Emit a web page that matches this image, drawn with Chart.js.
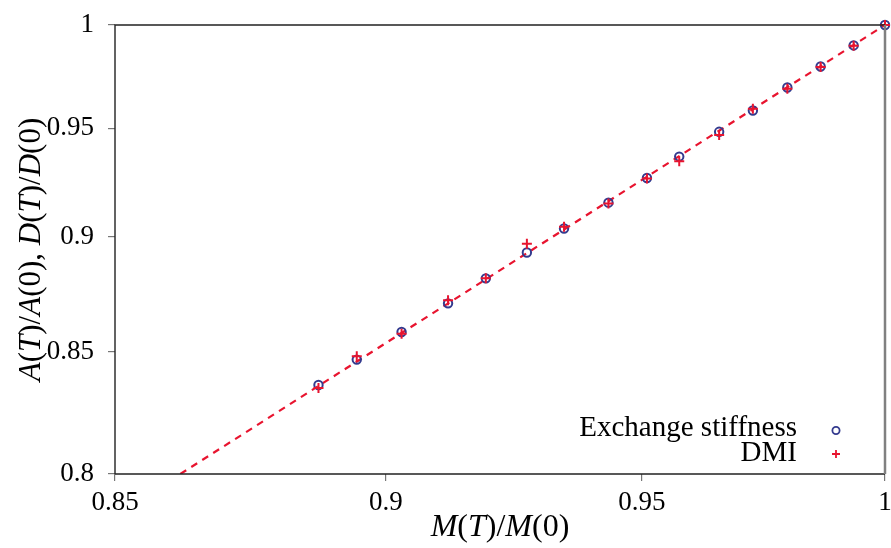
<!DOCTYPE html>
<html>
<head>
<meta charset="utf-8">
<title>Exchange stiffness and DMI scaling</title>
<script src="https://cdn.jsdelivr.net/npm/chart.js@4.4.1/dist/chart.umd.min.js"></script>
<style>
  html, body { margin: 0; padding: 0; background: #fff; }
  #wrap { width: 891px; height: 548px; }
</style>
</head>
<body>
<div id="wrap"><canvas id="myChart" width="891" height="548"></canvas></div>
<script>
// Reduced magnetisation M(T)/M(0)
const magnetisation = [0.8873, 0.8945, 0.9030, 0.9119, 0.9192, 0.9272, 0.9345, 0.9433,
                       0.9510, 0.9575, 0.9656, 0.9725, 0.9796, 0.9865, 0.9934, 1.0];
// A(T)/A(0)
const exchangeStiffness = [0.8362, 0.8468, 0.8585, 0.8708, 0.8817, 0.8931, 0.9038, 0.9155,
                           0.9268, 0.9367, 0.9483, 0.9584, 0.9694, 0.9796, 0.9899, 1.0];
// D(T)/D(0)
const dmi = [0.8349, 0.8482, 0.8578, 0.8722, 0.8817, 0.8970, 0.9046, 0.9151,
             0.9265, 0.9345, 0.9468, 0.9592, 0.9688, 0.9793, 0.9897, 1.0];
// power law fit, straight on log-log axes (end points)
const fitX = [0.8618, 1.0];
const fitY = [0.8, 1.0];

const xTicks = [0.85, 0.9, 0.95, 1];
const yTicks = [0.8, 0.85, 0.9, 0.95, 1];

const SERIF = "'Liberation Serif', 'DejaVu Serif', serif";
const BLUE = '#333a8e';
const RED = '#e8142f';

// plot box edges on the canvas
const W = 891, H = 548;
const BOX = { left: 115, top: 25, right: 885, bottom: 474 };

const toPoints = (xs, ys) => xs.map((x, i) => ({ x: x, y: ys[i] }));

// Axis titles mix italic symbols with upright parentheses and digits
function drawRichText(ctx, parts, size) {
    const fontFor = it => (it ? 'italic ' : '') + size + 'px ' + SERIF;
    let total = 0;
    parts.forEach(p => { ctx.font = fontFor(p[1]); total += ctx.measureText(p[0]).width; });
    let x = -total / 2;
    ctx.textBaseline = 'middle';
    ctx.textAlign = 'left';
    ctx.fillStyle = '#000';
    parts.forEach(p => {
        ctx.font = fontFor(p[1]);
        ctx.fillText(p[0], x, 0);
        x += ctx.measureText(p[0]).width;
    });
}

const titlesPlugin = {
    id: 'axisTitles',
    afterDraw(chart) {
        const ctx = chart.ctx;
        const area = chart.chartArea;
        ctx.save();
        ctx.translate((area.left + area.right) / 2, 528);
        drawRichText(ctx, [['M', true], ['(', false], ['T', true], [')/', false], ['M', true], ['(0)', false]], 32);
        ctx.restore();

        ctx.save();
        ctx.translate(32, (area.top + area.bottom) / 2);
        ctx.rotate(-Math.PI / 2);
        drawRichText(ctx, [['A', true], ['(', false], ['T', true], [')/', false], ['A', true], ['(0), ', false],
                           ['D', true], ['(', false], ['T', true], [')/', false], ['D', true], ['(0)', false]], 31);
        ctx.restore();
    }
};

// Box round the plot area
const framePlugin = {
    id: 'frame',
    afterDatasetsDraw(chart) {
        const ctx = chart.ctx;
        const a = chart.chartArea;
        ctx.save();
        ctx.strokeStyle = '#222';
        ctx.lineWidth = 1.4;
        ctx.beginPath();
        ctx.moveTo(a.left, a.bottom);
        ctx.lineTo(a.left, a.top);
        ctx.lineTo(a.right, a.top);
        ctx.moveTo(a.left, a.bottom);
        ctx.lineTo(a.right, a.bottom);
        ctx.stroke();
        ctx.strokeStyle = '#808080';
        ctx.lineWidth = 2.5;
        ctx.beginPath();
        ctx.moveTo(a.right, a.top);
        ctx.lineTo(a.right, a.bottom);
        ctx.stroke();
        ctx.restore();
    }
};

// Key in the lower right corner: label first, marker after it
const keyPlugin = {
    id: 'key',
    afterDraw(chart) {
        const ctx = chart.ctx;
        const textRight = 797, markX = 836;
        ctx.save();
        ctx.font = '29px ' + SERIF;
        ctx.fillStyle = '#000';
        ctx.textAlign = 'right';
        ctx.textBaseline = 'alphabetic';
        ctx.fillText('Exchange stiffness', textRight, 436);
        ctx.fillText('DMI', textRight, 461);

        ctx.strokeStyle = BLUE;
        ctx.lineWidth = 1.8;
        ctx.beginPath();
        ctx.arc(markX, 430.5, 3.6, 0, Math.PI * 2);
        ctx.stroke();

        ctx.strokeStyle = RED;
        ctx.lineWidth = 1.8;
        ctx.beginPath();
        ctx.moveTo(markX - 4, 454); ctx.lineTo(markX + 4, 454);
        ctx.moveTo(markX, 450); ctx.lineTo(markX, 458);
        ctx.stroke();
        ctx.restore();
    }
};

// clip:false datasets make the layout reserve room for markers; pin the box back
const pinBoxPlugin = {
    id: 'pinBox',
    afterLayout(chart) {
        const a = chart.chartArea;
        if (a.top === BOX.top && a.right === BOX.right) return;
        Object.assign(a, BOX, { width: BOX.right - BOX.left, height: BOX.bottom - BOX.top });
        const xs = chart.scales.x, ys = chart.scales.y;
        xs.left = BOX.left; xs.right = BOX.right; xs.width = BOX.right - BOX.left;
        xs.top = BOX.bottom; xs.bottom = H;
        ys.top = BOX.top; ys.bottom = BOX.bottom; ys.height = BOX.bottom - BOX.top;
        ys.left = 0; ys.right = BOX.left;
        xs.configure(); ys.configure();
    }
};

const ctx = document.getElementById('myChart').getContext('2d');

new Chart(ctx, {
    type: 'scatter',
    data: {
        datasets: [
            {
                label: 'DMI',
                data: toPoints(magnetisation, dmi),
                pointStyle: 'cross',
                pointRadius: 5,
                borderWidth: 2,
                borderColor: RED,
                backgroundColor: RED,
                clip: false,
                order: 0
            },
            {
                label: 'Exchange stiffness',
                data: toPoints(magnetisation, exchangeStiffness),
                pointStyle: 'circle',
                pointRadius: 4.2,
                borderWidth: 2,
                borderColor: BLUE,
                backgroundColor: 'rgba(0,0,0,0)',
                clip: false,
                order: 1
            },
            {
                label: 'fit',
                type: 'line',
                data: toPoints(fitX, fitY),
                showLine: true,
                borderColor: RED,
                borderWidth: 2.2,
                borderDash: [7, 6],
                pointRadius: 0,
                fill: false,
                order: 2
            }
        ]
    },
    options: {
        responsive: false,
        animation: false,
        layout: {
            autoPadding: false,
            padding: { top: BOX.top, right: W - BOX.right, bottom: 0, left: 0 }
        },
        scales: {
            x: {
                type: 'logarithmic',
                min: 0.85,
                max: 1,
                bounds: 'data',
                afterBuildTicks: scale => { scale.ticks = xTicks.map(v => ({ value: v })); },
                afterFit: scale => { scale.height = H - BOX.bottom; },
                grid: { drawOnChartArea: false, tickLength: 7, color: '#777', lineWidth: 1.2 },
                border: { display: false },
                ticks: {
                    font: { family: SERIF, size: 27 },
                    color: '#000',
                    padding: 6,
                    maxRotation: 0,
                    autoSkip: false,
                    callback: v => String(v)
                }
            },
            y: {
                type: 'logarithmic',
                min: 0.8,
                max: 1,
                bounds: 'data',
                afterBuildTicks: scale => { scale.ticks = yTicks.map(v => ({ value: v })); },
                afterFit: scale => { scale.width = BOX.left; },
                grid: { drawOnChartArea: false, tickLength: 7, color: '#777', lineWidth: 1.2 },
                border: { display: false },
                ticks: {
                    font: { family: SERIF, size: 27 },
                    color: '#000',
                    padding: 14,
                    autoSkip: false,
                    callback: v => String(v)
                }
            }
        },
        plugins: {
            legend: { display: false },
            tooltip: { enabled: false }
        }
    },
    plugins: [pinBoxPlugin, framePlugin, titlesPlugin, keyPlugin]
});
</script>
</body>
</html>
